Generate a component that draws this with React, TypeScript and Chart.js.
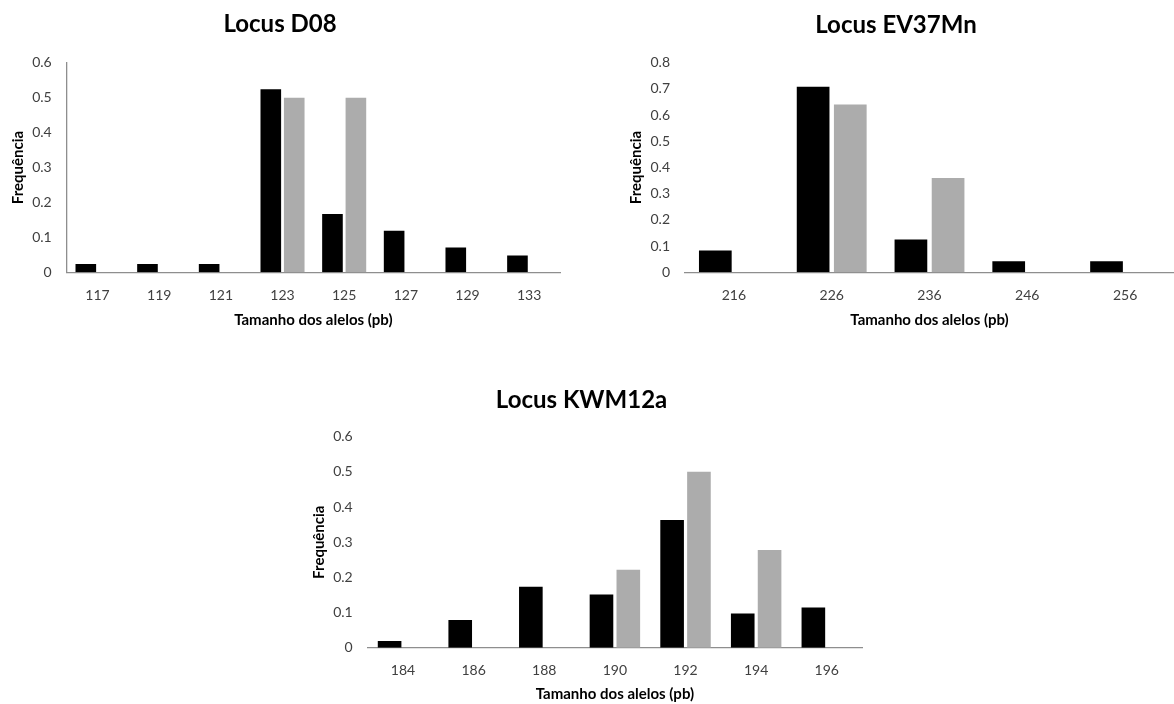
import React, { useEffect, useRef } from 'react';
import { Chart, registerables } from 'chart.js';

Chart.register(...registerables);

// ---------- data ----------
const d08Title = 'Locus D08';
const d08Labels = ['117', '119', '121', '123', '125', '127', '129', '133'];
const d08Black = [0.024, 0.024, 0.024, 0.524, 0.167, 0.119, 0.071, 0.048];
const d08Gray = [null, null, null, 0.5, 0.5, null, null, null];
const d08Max = 0.6;

const ev37Title = 'Locus EV37Mn';
const ev37Labels = ['216', '226', '236', '246', '256'];
const ev37Black = [0.083, 0.708, 0.125, 0.042, 0.042];
const ev37Gray = [null, 0.64, 0.36, null, null];
const ev37Max = 0.8;

const kwmTitle = 'Locus KWM12a';
const kwmLabels = ['184', '186', '188', '190', '192', '194', '196'];
const kwmBlack = [0.019, 0.079, 0.173, 0.151, 0.363, 0.097, 0.114];
const kwmGray = [null, null, null, 0.222, 0.5, 0.278, null];
const kwmMax = 0.6;

const xAxisTitle = 'Tamanho dos alelos (pb)';
const yAxisTitle = 'Frequência';

const FONT = "Lato, 'Open Sans', sans-serif";

type PanelProps = {
  title: string;
  labels: string[];
  black: (number | null)[];
  gray: (number | null)[];
  yMax: number;
  left: number;
  top: number;
  width: number;
  height: number;
  plotL: number;
  plotR: number;
  plotT: number;
  plotB: number;
  titleY: number;
  tickY: number;
  xTitleY: number;
  yBorder: boolean;
};

function BarPanel(p: PanelProps) {
  const ref = useRef<HTMLCanvasElement>(null);
  useEffect(() => {
    const titleSize = 24;
    const titleLH = titleSize * 1.2;
    const tickSize = 14;
    const tickLH = tickSize * 1.2;
    const axTitleSize = 15;
    const axTitleLH = axTitleSize * 1.2;
    const chart = new Chart(ref.current as HTMLCanvasElement, {
      type: 'bar',
      data: {
        labels: p.labels,
        datasets: [
          {
            data: p.black as any,
            backgroundColor: '#000000',
            categoryPercentage: 0.76,
            barPercentage: 0.88,
          },
          {
            data: p.gray as any,
            backgroundColor: '#acacac',
            categoryPercentage: 0.76,
            barPercentage: 0.88,
          },
        ],
      },
      options: {
        animation: false,
        responsive: false,
        devicePixelRatio: 1,
        layout: { padding: { left: 0, right: p.width - p.plotR, top: 0, bottom: 0 } },
        plugins: {
          legend: { display: false },
          tooltip: { enabled: false },
          title: {
            display: true,
            text: p.title,
            color: '#000000',
            font: { family: FONT, size: titleSize, weight: 'bold' },
            padding: {
              top: p.titleY - titleLH / 2,
              bottom: p.plotT - (p.titleY + titleLH / 2),
            },
          },
        },
        scales: {
          x: {
            grid: { display: false, drawTicks: false },
            border: { display: true, color: '#8e8e8e', width: 1.3 },
            ticks: {
              color: '#404040',
              padding: p.tickY - p.plotB - tickLH / 2,
              font: { family: FONT, size: tickSize },
            },
            title: {
              display: true,
              text: xAxisTitle,
              color: '#000000',
              font: { family: FONT, size: axTitleSize, weight: 'bold' },
              padding: { top: 0, bottom: p.height - p.xTitleY - axTitleLH / 2 },
            },
            afterFit: (s: any) => {
              s.height = p.height - p.plotB;
            },
          },
          y: {
            min: 0,
            max: p.yMax,
            grid: { display: false, drawTicks: false },
            border: { display: p.yBorder, color: '#8e8e8e', width: 1.3 },
            ticks: {
              stepSize: 0.1,
              color: '#404040',
              padding: 15,
              font: { family: FONT, size: tickSize },
              callback: (v: any) => {
                const n = Number(v);
                return Math.abs(n) < 1e-9 ? '0' : n.toFixed(1);
              },
            },
            title: {
              display: true,
              text: yAxisTitle,
              color: '#000000',
              font: { family: FONT, size: axTitleSize, weight: 'bold' },
              padding: { top: 18 - axTitleLH / 2, bottom: 0 },
            },
            afterFit: (s: any) => {
              s.width = p.plotL;
            },
          },
        },
      } as any,
    });
    return () => chart.destroy();
  }, []);
  return (
    <canvas
      ref={ref}
      width={p.width}
      height={p.height}
      style={{
        position: 'absolute',
        left: p.left,
        top: p.top,
        width: p.width,
        height: p.height,
      }}
    />
  );
}

export default function App() {
  return (
    <div
      style={{
        position: 'fixed',
        left: 0,
        top: 0,
        width: 1174,
        height: 704,
        background: '#ffffff',
        overflow: 'hidden',
      }}
    >
      <BarPanel
        title={d08Title}
        labels={d08Labels}
        black={d08Black}
        gray={d08Gray}
        yMax={d08Max}
        left={0}
        top={0}
        width={562}
        height={340}
        plotL={66.7}
        plotR={560}
        plotT={62.7}
        plotB={272.3}
        titleY={24}
        tickY={295}
        xTitleY={320}
        yBorder={true}
      />
      <BarPanel
        title={ev37Title}
        labels={ev37Labels}
        black={ev37Black}
        gray={ev37Gray}
        yMax={ev37Max}
        left={618}
        top={0}
        width={556}
        height={340}
        plotL={67}
        plotR={556}
        plotT={62.7}
        plotB={272.3}
        titleY={25}
        tickY={295}
        xTitleY={320}
        yBorder={false}
      />
      <BarPanel
        title={kwmTitle}
        labels={kwmLabels}
        black={kwmBlack}
        gray={kwmGray}
        yMax={kwmMax}
        left={300.6}
        top={374}
        width={562}
        height={330}
        plotL={66.7}
        plotR={561.1}
        plotT={62.7}
        plotB={273.7}
        titleY={26.7}
        tickY={296}
        xTitleY={320}
        yBorder={false}
      />
    </div>
  );
}
